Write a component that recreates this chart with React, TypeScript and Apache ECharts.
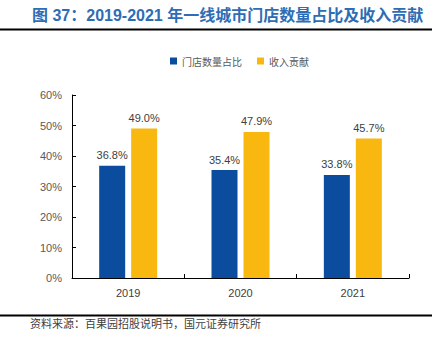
import React, { useEffect, useRef } from "react";
import * as echarts from "echarts";

const categories = ["2019", "2020", "2021"];
const storeShare = [36.8, 35.4, 33.8];
const revenueShare = [49.0, 47.9, 45.7];
const seriesNames = ["门店数量占比", "收入贡献"];
const titleText = "图 37：2019-2021 年一线城市门店数量占比及收入贡献";
const sourceText = "资料来源：百果园招股说明书，国元证券研究所";

export default function App() {
  const ref = useRef<HTMLDivElement>(null);
  useEffect(() => {
    if (!ref.current) return;
    const chart = echarts.init(ref.current, undefined, { renderer: "svg" });
    const labelStyle = {
      show: true,
      position: "top" as const,
      distance: 5,
      fontSize: 11,
      color: "#404040",
      fontFamily: "Liberation Sans, Arial, sans-serif",
      formatter: (p: any) => Number(p.value).toFixed(1) + "%",
    };
    chart.setOption({
      animation: false,
      backgroundColor: "#ffffff",
      textStyle: { fontFamily: "Liberation Sans, Arial, sans-serif" },
      legend: {
        left: 170,
        top: 56,
        padding: 0,
        itemWidth: 7,
        itemHeight: 7,
        itemGap: 15,
        icon: "rect",
        textStyle: {
          fontSize: 10,
          color: "#595959",
          fontFamily: "Noto Sans CJK SC, sans-serif",
        },
        data: seriesNames,
      },
      grid: { left: 72, right: 23, top: 95, bottom: 73, containLabel: false },
      xAxis: {
        type: "category",
        data: categories,
        axisLine: { show: true, lineStyle: { color: "#000000", width: 1 } },
        axisTick: { show: true, inside: true, length: 4, lineStyle: { color: "#000000" } },
        axisLabel: { fontSize: 11, color: "#404040", margin: 9 },
      },
      yAxis: {
        type: "value",
        min: 0,
        max: 60,
        interval: 10,
        splitLine: { show: false },
        axisLine: { show: true, lineStyle: { color: "#000000", width: 1 } },
        axisTick: { show: true, inside: true, length: 4, lineStyle: { color: "#000000" } },
        axisLabel: {
          fontSize: 11,
          color: "#595959",
          margin: 10,
          formatter: (v: number) => v + "%",
        },
      },
      series: [
        {
          name: seriesNames[0],
          type: "bar",
          data: storeShare,
          barWidth: 26,
          barGap: "23%",
          itemStyle: { color: "#0B4C9F" },
          label: labelStyle,
        },
        {
          name: seriesNames[1],
          type: "bar",
          data: revenueShare,
          barWidth: 26,
          itemStyle: { color: "#F8B80F" },
          label: labelStyle,
        },
      ],
      graphic: [
        {
          type: "text",
          left: 32,
          top: 7,
          style: {
            text: titleText,
            fontSize: 16,
            fontWeight: "bold",
            fill: "#2E6DB4",
            fontFamily: "Liberation Sans, Noto Sans CJK SC, sans-serif",
          },
        },
        {
          type: "line",
          shape: { x1: 0, y1: 29.5, x2: 432, y2: 29.5 },
          style: { stroke: "#000000", lineWidth: 2 },
        },
        {
          type: "line",
          shape: { x1: 0, y1: 315.5, x2: 432, y2: 315.5 },
          style: { stroke: "#000000", lineWidth: 2 },
        },
        {
          type: "text",
          left: 30,
          top: 317,
          style: {
            text: sourceText,
            fontSize: 11,
            fill: "#404040",
            fontFamily: "Noto Sans CJK SC, sans-serif",
          },
        },
      ],
    });
    return () => chart.dispose();
  }, []);
  return (
    <div
      ref={ref}
      style={{ position: "fixed", left: 0, top: 0, width: 432, height: 351 }}
    />
  );
}
